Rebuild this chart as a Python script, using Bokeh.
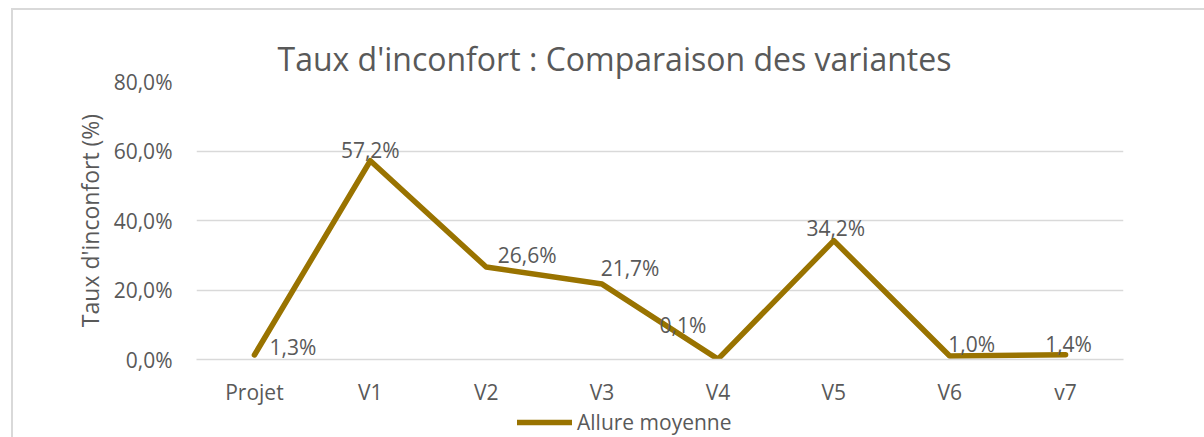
from bokeh.plotting import figure
from bokeh.layouts import column
from bokeh.models import (ColumnDataSource, LabelSet, Legend, LegendItem,
                          CustomJSTickFormatter, FixedTicker, Range1d)
from bokeh.core.properties import value
from bokeh.embed import file_html
from bokeh.resources import INLINE

# ---- data ----
categories = ["Projet", "V1", "V2", "V3", "V4", "V5", "V6", "v7"]
allure_moyenne = [1.3, 57.2, 26.6, 21.7, 0.1, 34.2, 1.0, 1.4]
y_ticks = [0, 20, 40, 60, 80]
series_name = "Allure moyenne"
title_text = "Taux d'inconfort : Comparaison des variantes"
y_label = "Taux d'inconfort (%)"

# ---- styling ----
FONT = "Open Sans"
GREY = "#595959"
GRID = "#d9d9d9"
LINE = "#997300"
W = 1204

p = figure(x_range=categories, y_range=Range1d(0, 80),
           width=W, height=408, output_backend="svg", toolbar_location=None,
           min_border_left=196, min_border_right=81, min_border_top=81, min_border_bottom=47)
p.outline_line_color = None
p.background_fill_color = "white"
p.border_fill_color = None

p.title.text = title_text
p.title.align = "left"
p.title.offset = 81
p.title.text_font = FONT
p.title.text_font_size = "32px"
p.title.text_font_style = "normal"
p.title.text_color = GREY
p.title.standoff = 4

# axes
p.yaxis.ticker = FixedTicker(ticks=y_ticks)
p.yaxis.formatter = CustomJSTickFormatter(code="return tick.toFixed(1).replace('.', ',') + '%';")
p.yaxis.axis_line_color = None
p.yaxis.major_tick_line_color = None
p.yaxis.minor_tick_line_color = None
p.yaxis.major_tick_out = 0
p.yaxis.major_tick_in = 0
p.yaxis.major_label_standoff = 24
p.yaxis.major_label_text_font = FONT
p.yaxis.major_label_text_font_size = "21px"
p.yaxis.major_label_text_color = GREY
p.yaxis.axis_label = y_label
p.yaxis.axis_label_text_font = FONT
p.yaxis.axis_label_text_font_size = "23px"
p.yaxis.axis_label_text_font_style = "normal"
p.yaxis.axis_label_text_color = GREY
p.yaxis.axis_label_standoff = 5

p.xaxis.axis_line_color = GRID
p.xaxis.axis_line_width = 1.5
p.xaxis.major_tick_line_color = None
p.xaxis.minor_tick_line_color = None
p.xaxis.major_tick_out = 0
p.xaxis.major_tick_in = 0
p.xaxis.major_label_standoff = 18
p.xaxis.major_label_text_font = FONT
p.xaxis.major_label_text_font_size = "21px"
p.xaxis.major_label_text_color = GREY

p.xgrid.grid_line_color = None
p.ygrid.grid_line_color = GRID
p.ygrid.grid_line_width = 1.5

src = ColumnDataSource(dict(x=categories, y=allure_moyenne))
line_style = dict(line_color=LINE, line_width=5.5, line_join="round", line_cap="round")
r = p.line("x", "y", source=src, **line_style)

# data labels (placement offsets in pixels, like manually moved Excel labels)
dx = [15, 0, 41, 28, -35, 2, 22, 3]
dy = [0, 3, 4, 8, 26, 5, 4, 3]
align = ["left"] + ["center"] * 7
lab_src = ColumnDataSource(dict(
    x=categories, y=allure_moyenne,
    text=[("%.1f" % v).replace(".", ",") + "%" for v in allure_moyenne],
    dx=dx, dy=dy, align=align))
labels = LabelSet(x="x", y="y", text="text", source=lab_src,
                  x_offset="dx", y_offset="dy", text_align="align",
                  text_baseline="alphabetic", text_font=value(FONT),
                  text_font_size="21px", text_color=GREY)
p.add_layout(labels)

# ---- legend strip below the chart ----
lg = figure(x_range=categories, y_range=Range1d(1000, 1001),
            width=W, height=29, output_backend="svg", toolbar_location=None,
            min_border=0, x_axis_location=None, y_axis_location=None)
lg.outline_line_color = None
lg.grid.visible = False
lg.background_fill_color = None
lg.border_fill_color = None
r2 = lg.line("x", "y", source=src, **line_style)   # same series, out of view: only feeds the legend
legend = Legend(items=[LegendItem(label=series_name, renderers=[r2])],
                orientation="horizontal", location=(321, 1),
                glyph_width=55, glyph_height=16, label_height=16, label_standoff=5,
                padding=0, margin=0, spacing=0,
                label_text_font=FONT, label_text_font_size="21px", label_text_color=GREY,
                border_line_color=None, background_fill_alpha=0)
lg.add_layout(legend)

border = ("linear-gradient(#d9d9d9,#d9d9d9) 11px 8px / 2px 100% no-repeat, "
          "linear-gradient(#d9d9d9,#d9d9d9) 11px 8px / 100% 2px no-repeat, white")
layout = column(p, lg, spacing=0, styles={"background": border})

open("out.html", "w").write(file_html(layout, INLINE))
